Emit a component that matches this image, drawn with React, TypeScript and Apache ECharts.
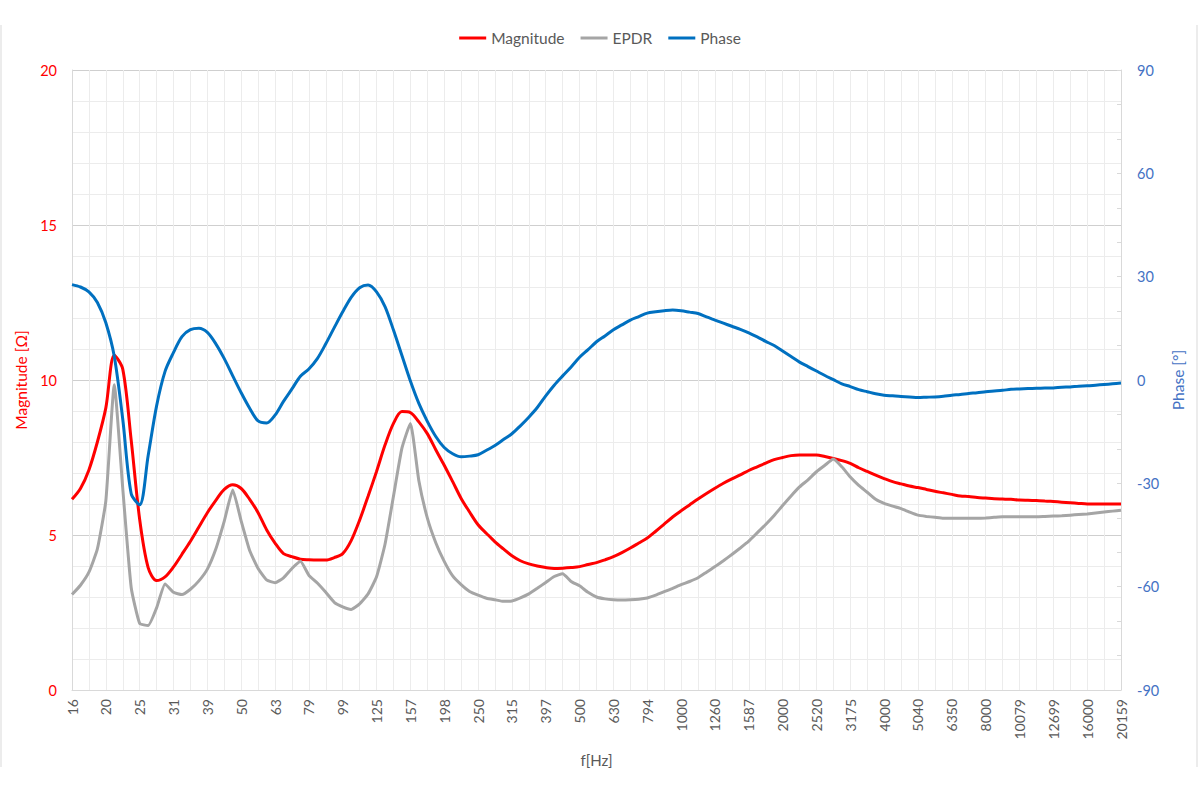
import React, { useEffect, useRef } from "react";
import * as echarts from "echarts";

// Third-octave tick labels shown on the x axis (every 4th category, 1/12-octave data)
const TICK_LABELS = [
  "16", "20", "25", "31", "39", "50", "63", "79", "99", "125", "157", "198", "250", "315", "397", "500",
  "630", "794", "1000", "1260", "1587", "2000", "2520", "3175", "4000", "5040", "6350", "8000", "10079",
  "12699", "16000", "20159",
];

const MAGNITUDE = [
  6.15, 6.5, 7.1, 8.0, 9.1, 10.8, 10.35, 8.05, 5.5, 3.95, 3.53, 3.65, 3.97, 4.38, 4.8, 5.26, 5.72, 6.12, 6.47, 6.62,
  6.5, 6.15, 5.72, 5.17, 4.74, 4.4, 4.3, 4.22, 4.2, 4.19, 4.19, 4.27, 4.4, 4.82, 5.48, 6.25, 7.05, 7.9, 8.6, 8.98,
  8.95, 8.65, 8.27, 7.75, 7.25, 6.72, 6.18, 5.74, 5.33, 5.05, 4.78, 4.55, 4.33, 4.17, 4.07, 4.0, 3.95, 3.92, 3.93, 3.95,
  3.98, 4.05, 4.11, 4.2, 4.3, 4.43, 4.58, 4.74, 4.9, 5.12, 5.35, 5.58, 5.78, 5.97, 6.16, 6.34, 6.51, 6.67, 6.81, 6.94,
  7.08, 7.2, 7.32, 7.43, 7.5, 7.56, 7.58, 7.58, 7.58, 7.53, 7.47, 7.4, 7.31, 7.17, 7.05, 6.93, 6.82, 6.72, 6.65, 6.58,
  6.53, 6.47, 6.41, 6.36, 6.31, 6.26, 6.24, 6.21, 6.19, 6.17, 6.16, 6.15, 6.13, 6.12, 6.11, 6.1, 6.08, 6.06, 6.04, 6.02,
  6.0, 6.0, 6.0, 6.0, 6.0,
];

const EPDR = [
  3.08, 3.38, 3.8, 4.55, 6.1, 9.85, 6.5, 3.3, 2.15, 2.08, 2.65, 3.42, 3.15, 3.08, 3.25, 3.52, 3.9, 4.55, 5.45, 6.45,
  5.45, 4.5, 3.92, 3.55, 3.46, 3.62, 3.92, 4.15, 3.7, 3.45, 3.15, 2.83, 2.68, 2.6, 2.78, 3.1, 3.65, 4.7, 6.25, 7.8,
  8.6, 6.75, 5.55, 4.75, 4.15, 3.68, 3.4, 3.18, 3.06, 2.96, 2.91, 2.86, 2.87, 2.97, 3.1, 3.28, 3.47, 3.66, 3.75, 3.5,
  3.36, 3.15, 3.0, 2.94, 2.91, 2.9, 2.91, 2.93, 2.97, 3.06, 3.17, 3.28, 3.4, 3.5, 3.62, 3.8, 3.98, 4.17, 4.37, 4.58,
  4.8, 5.07, 5.34, 5.63, 5.95, 6.26, 6.55, 6.78, 7.04, 7.25, 7.45, 7.2, 6.87, 6.6, 6.38, 6.15, 6.02, 5.93, 5.85, 5.74,
  5.64, 5.6, 5.57, 5.54, 5.54, 5.54, 5.54, 5.54, 5.55, 5.57, 5.59, 5.59, 5.59, 5.59, 5.59, 5.6, 5.61, 5.62, 5.64, 5.66,
  5.68, 5.71, 5.74, 5.77, 5.8,
];

const PHASE = [
  27.7, 27.0, 25.6, 22.5, 16.6, 6.8, -11.4, -33.0, -36.2, -22, -7.5, 2.5, 8, 12.6, 14.6, 15, 13.8, 10.5, 6.2, 1.2,
  -3.7, -8.2, -11.9, -12.5, -10.2, -6.2, -2.6, 1.1, 3.2, 6.2, 10.5, 15.2, 19.8, 24.0, 26.8, 27.6, 25.6, 21.3, 14.5, 7.1,
  -0.3, -6.8, -12.0, -16.4, -19.6, -21.4, -22.3, -22.1, -21.7, -20.4, -19.0, -17.3, -15.6, -13.3, -10.8, -8.0, -4.6, -1.5, 1.2, 3.8,
  6.6, 8.8, 11.1, 12.8, 14.6, 16.0, 17.4, 18.4, 19.4, 19.8, 20.1, 20.3, 20.1, 19.7, 19.3, 18.3, 17.4, 16.5, 15.6, 14.7,
  13.7, 12.5, 11.2, 10.0, 8.4, 6.8, 5.2, 3.9, 2.6, 1.3, 0.1, -1.1, -1.9, -2.8, -3.4, -4.0, -4.4, -4.6, -4.8, -4.9,
  -5.1, -5.0, -4.9, -4.7, -4.4, -4.2, -3.9, -3.7, -3.4, -3.2, -3.0, -2.7, -2.6, -2.5, -2.4, -2.35, -2.3, -2.1, -2.0, -1.8,
  -1.7, -1.5, -1.3, -1.1, -0.9,
];

const STEPS_PER_TICK = 4;

// category names: tick labels at every 4th point, intermediate 1/12-octave frequencies between
const CATEGORIES = MAGNITUDE.map((_, i) =>
  i % STEPS_PER_TICK === 0
    ? TICK_LABELS[i / STEPS_PER_TICK]
    : String(Math.round(1000 * Math.pow(2, (i - 72) / 12)))
);

const FONT = "Lato, 'Open Sans', sans-serif";

export default function App() {
  const ref = useRef<HTMLDivElement>(null);

  useEffect(() => {
    if (!ref.current) return;
    const chart = echarts.init(ref.current, null, { renderer: "svg" });
    chart.setOption({
      animation: false,
      backgroundColor: "#ffffff",
      textStyle: { fontFamily: FONT },
      graphic: [
        { type: "line", shape: { x1: 1, y1: 25, x2: 1, y2: 767 }, style: { stroke: "#d9d9d9", lineWidth: 1 } },
        { type: "line", shape: { x1: 1197, y1: 25, x2: 1197, y2: 767 }, style: { stroke: "#d9d9d9", lineWidth: 1 } },
      ],
      legend: {
        top: 25,
        left: "center",
        icon: "rect",
        itemWidth: 27,
        itemHeight: 3,
        itemGap: 16,
        textStyle: { color: "#595959", fontSize: 15.5, fontFamily: FONT },
        data: ["Magnitude", "EPDR", "Phase"],
      },
      grid: { left: 72, right: 79, top: 70, bottom: 109, containLabel: false },
      xAxis: {
        type: "category",
        data: CATEGORIES,
        boundaryGap: false,
        name: "f[Hz]",
        nameLocation: "middle",
        nameGap: 62,
        nameTextStyle: { color: "#595959", fontSize: 15, fontFamily: FONT },
        axisLine: { show: true, lineStyle: { color: "#d9d9d9", width: 1 } },
        axisTick: { show: false },
        axisLabel: {
          interval: STEPS_PER_TICK - 1,
          rotate: 90,
          color: "#595959",
          fontSize: 14,
          margin: 9,
          fontFamily: FONT,
        },
        splitLine: { show: true, interval: 1, lineStyle: { color: "#ececec", width: 1 } },
      },
      yAxis: [
        {
          type: "value",
          min: 0,
          max: 20,
          interval: 5,
          name: "Magnitude [Ω]",
          nameLocation: "middle",
          nameRotate: 90,
          nameGap: 37,
          nameTextStyle: { color: "#ff0000", fontSize: 15.5, fontFamily: FONT },
          axisLine: { show: true, lineStyle: { color: "#d9d9d9", width: 1 } },
          axisTick: { show: false },
          axisLabel: { color: "#ff0000", fontSize: 14.5, margin: 15, fontFamily: FONT },
          splitLine: { show: true, lineStyle: { color: "#cfcfcf", width: 1 } },
          minorTick: { show: false, splitNumber: 5 },
          minorSplitLine: { show: true, lineStyle: { color: "#ececec", width: 1 } },
        },
        {
          type: "value",
          min: -90,
          max: 90,
          interval: 30,
          position: "right",
          name: "Phase [°]",
          nameLocation: "middle",
          nameRotate: 90,
          nameGap: 46,
          nameTextStyle: { color: "#4472c4", fontSize: 15.5, fontFamily: FONT },
          axisLine: { show: true, lineStyle: { color: "#d9d9d9", width: 1 } },
          axisTick: { show: true, inside: true, length: 4, lineStyle: { color: "#d9d9d9" } },
          minorTick: { show: true, splitNumber: 3, length: 4, lineStyle: { color: "#d9d9d9" } },
          axisLabel: { color: "#4472c4", fontSize: 14.5, margin: 16, fontFamily: FONT },
          splitLine: { show: false },
        },
      ],
      series: [
        {
          name: "Magnitude",
          type: "line",
          yAxisIndex: 0,
          data: MAGNITUDE,
          showSymbol: false,
          symbol: "none",
          smooth: 0.3,
          lineStyle: { color: "#ff0000", width: 3 },
          itemStyle: { color: "#ff0000" },
        },
        {
          name: "EPDR",
          type: "line",
          yAxisIndex: 0,
          data: EPDR,
          showSymbol: false,
          symbol: "none",
          smooth: 0.15,
          lineStyle: { color: "#a5a5a5", width: 3 },
          itemStyle: { color: "#a5a5a5" },
        },
        {
          name: "Phase",
          type: "line",
          yAxisIndex: 1,
          data: PHASE,
          showSymbol: false,
          symbol: "none",
          smooth: 0.3,
          lineStyle: { color: "#0070c0", width: 3 },
          itemStyle: { color: "#0070c0" },
        },
      ],
    });
    return () => chart.dispose();
  }, []);

  return (
    <div
      ref={ref}
      style={{ position: "absolute", left: 0, top: 0, width: 1200, height: 799, background: "#fff" }}
    />
  );
}
